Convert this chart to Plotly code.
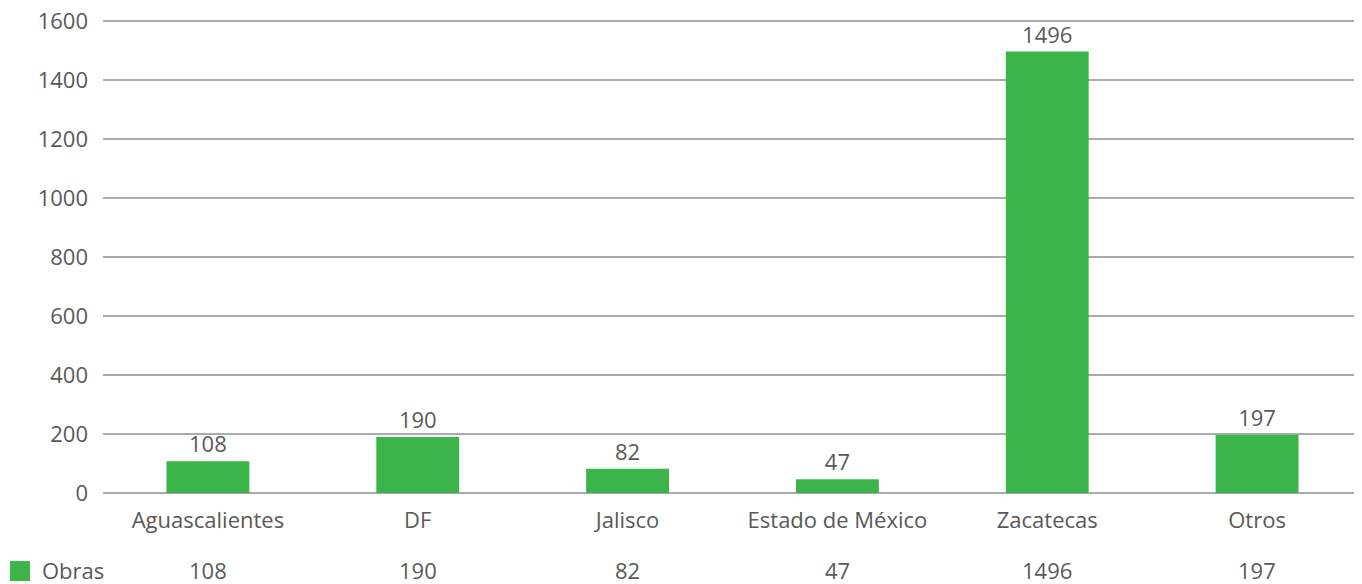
import plotly.graph_objects as go

categories = ["Aguascalientes", "DF", "Jalisco", "Estado de México", "Zacatecas", "Otros"]
obras = [108, 190, 82, 47, 1496, 197]
series_name = "Obras"
y_ticks = [0, 200, 400, 600, 800, 1000, 1200, 1400, 1600]

GREEN = "#3bb54a"
TEXT = "#595959"
GRID = "#ababae"
FONT = "Open Sans"
FS = 22
WT = 400

# page body has an 8px offset; figure coordinates below are relative to it
W, H = 1354, 576
L = 95
YMAX = 1640
PX_PER_UNIT = 472 / 1600
PLOT_H = YMAX * PX_PER_UNIT
axis_y = 493 - 8              # zero line in figure px
T = axis_y - PLOT_H
B = H - axis_y
plot_w = W - L
row_y = 570 - 8  # table row center in figure px

fig = go.Figure()
fig.add_trace(go.Bar(
    x=categories, y=obras, name=series_name,
    marker=dict(color=GREEN, line=dict(width=0)),
    width=0.395,
    text=[str(v) for v in obras], textposition="outside",
    textfont=dict(family=FONT, size=FS, color=TEXT, weight=WT),
    cliponaxis=False, showlegend=False,
))

# data table row below the axis
for c, v in zip(categories, obras):
    fig.add_annotation(x=c, xref="x", y=0, yref="paper", yanchor="middle",
                       yshift=-(row_y - axis_y), text=str(v), showarrow=False,
                       font=dict(family=FONT, size=FS, color=TEXT, weight=WT))
fig.add_annotation(x=(40 - 8 - L) / plot_w, xref="paper", xanchor="left",
                   y=0, yref="paper", yanchor="middle", yshift=-(row_y - axis_y),
                   text=series_name, showarrow=False,
                   font=dict(family=FONT, size=FS, color=TEXT, weight=WT))

fig.add_shape(type="rect", xref="paper", yref="paper",
              x0=(10 - 8 - L) / plot_w, x1=(30 - 8 - L) / plot_w,
              y0=(axis_y - (561 - 8)) / PLOT_H, y1=(axis_y - (581 - 8)) / PLOT_H,
              fillcolor=GREEN, line=dict(width=0))

fig.update_layout(
    width=W, height=H,
    margin=dict(l=L, r=0, t=T, b=B, pad=0, autoexpand=False),
    plot_bgcolor="white", paper_bgcolor="white",
    font=dict(family=FONT, size=FS, color=TEXT, weight=WT),
    xaxis=dict(showgrid=False, showline=False, ticks="",
               tickfont=dict(family=FONT, size=FS, color=TEXT, weight=WT),
               ticklabelstandoff=12),
    yaxis=dict(range=[0, YMAX], tickvals=y_ticks, showgrid=True,
               gridcolor=GRID, gridwidth=2, zeroline=True, zerolinecolor=GRID,
               zerolinewidth=2, showline=False, ticks="",
               ticklabeloverflow="allow",
               tickfont=dict(family=FONT, size=FS, color=TEXT, weight=WT),
               ticklabelstandoff=14),
)

fig.write_html("out.html")
